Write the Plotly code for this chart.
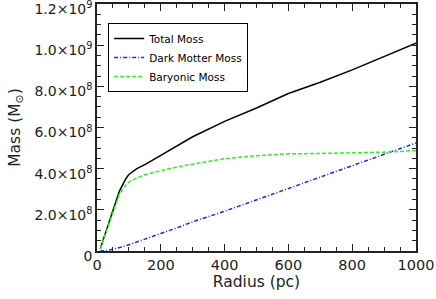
import plotly.graph_objects as go

radius = [10, 30, 50, 70, 90, 100, 125, 150, 200, 250, 300, 400, 500, 600, 700, 800, 900, 1000]
total_mass = [0.1e8, 1.0e8, 1.9e8, 2.9e8, 3.5e8, 3.72e8, 4.0e8, 4.2e8, 4.65e8, 5.1e8, 5.55e8, 6.3e8,
              6.95e8, 7.65e8, 8.2e8, 8.8e8, 9.45e8, 10.1e8]
dark_mass = [0.0, 0.02e8, 0.08e8, 0.15e8, 0.25e8, 0.3e8, 0.43e8, 0.57e8, 0.85e8, 1.12e8, 1.42e8, 1.93e8,
             2.48e8, 3.03e8, 3.6e8, 4.12e8, 4.7e8, 5.25e8]
baryonic_mass = [0.1e8, 1.0e8, 1.9e8, 2.75e8, 3.2e8, 3.35e8, 3.55e8, 3.7e8, 3.9e8, 4.08e8, 4.22e8, 4.48e8,
                 4.63e8, 4.72e8, 4.74e8, 4.76e8, 4.8e8, 4.88e8]

y_tickvals = [0, 2e8, 4e8, 6e8, 8e8, 1e9, 1.2e9]
y_ticktext = ["0", "2.0×10<sup>8</sup>", "4.0×10<sup>8</sup>", "6.0×10<sup>8</sup>",
              "8.0×10<sup>8</sup>", "1.0×10<sup>9</sup>", "1.2×10<sup>9</sup>"]
x_tickvals = [0, 200, 400, 600, 800, 1000]

font = "DejaVu Sans, Verdana, sans-serif"
txt = "#222"

fig = go.Figure()
fig.add_trace(go.Scatter(x=radius, y=total_mass, mode="lines", name="Total Moss",
                         line=dict(color="black", width=1.5)))
fig.add_trace(go.Scatter(x=radius, y=dark_mass, mode="lines", name="Dark Motter Moss",
                         line=dict(color="#2020ff", width=1.5, dash="4px,2px,1px,2px")))
fig.add_trace(go.Scatter(x=radius, y=baryonic_mass, mode="lines", name="Baryonic Moss",
                         line=dict(color="#33ee22", width=1.5, dash="4px,2px")))

axis_common = dict(
    showgrid=False, zeroline=False, showline=True, linecolor="#222", linewidth=1.5,
    mirror="allticks", ticks="inside", ticklen=7, tickwidth=1, tickcolor="#222",
    automargin=False, ticklabeloverflow="allow",
)

fig.update_xaxes(range=[0, 1000], tickvals=x_tickvals,
                 tickfont=dict(family=font, size=14.5, color=txt),
                 minor=dict(dtick=50, ticks="inside", ticklen=4, tickcolor="#222"),
                 title=dict(text="Radius (pc)", font=dict(family=font, size=15.5, color=txt), standoff=2),
                 **axis_common)
fig.update_yaxes(range=[0, 1.2e9], tickvals=y_tickvals, ticktext=y_ticktext,
                 tickfont=dict(family=font, size=14, color=txt), ticklabelshift=5,
                 minor=dict(dtick=0.5e8, ticks="inside", ticklen=4, tickcolor="#222"),
                 title=dict(text="Mass (M<sub>⊙</sub>)", font=dict(family=font, size=15.5, color=txt), standoff=10),
                 **axis_common)

fig.update_layout(
    width=436, height=299,
    margin=dict(l=97, r=20, t=4, b=48),
    paper_bgcolor="white", plot_bgcolor="white",
    showlegend=True,
    legend=dict(x=0.035, y=0.923, xanchor="left", yanchor="top",
                bordercolor="black", borderwidth=1, bgcolor="white",
                font=dict(family=font, size=10.5, color="black"),
                itemwidth=30, tracegroupgap=0),
)

fig.write_html("out.html", config={"displayModeBar": False},
               post_script="document.body.style.margin='0';document.body.style.overflow='hidden';")
